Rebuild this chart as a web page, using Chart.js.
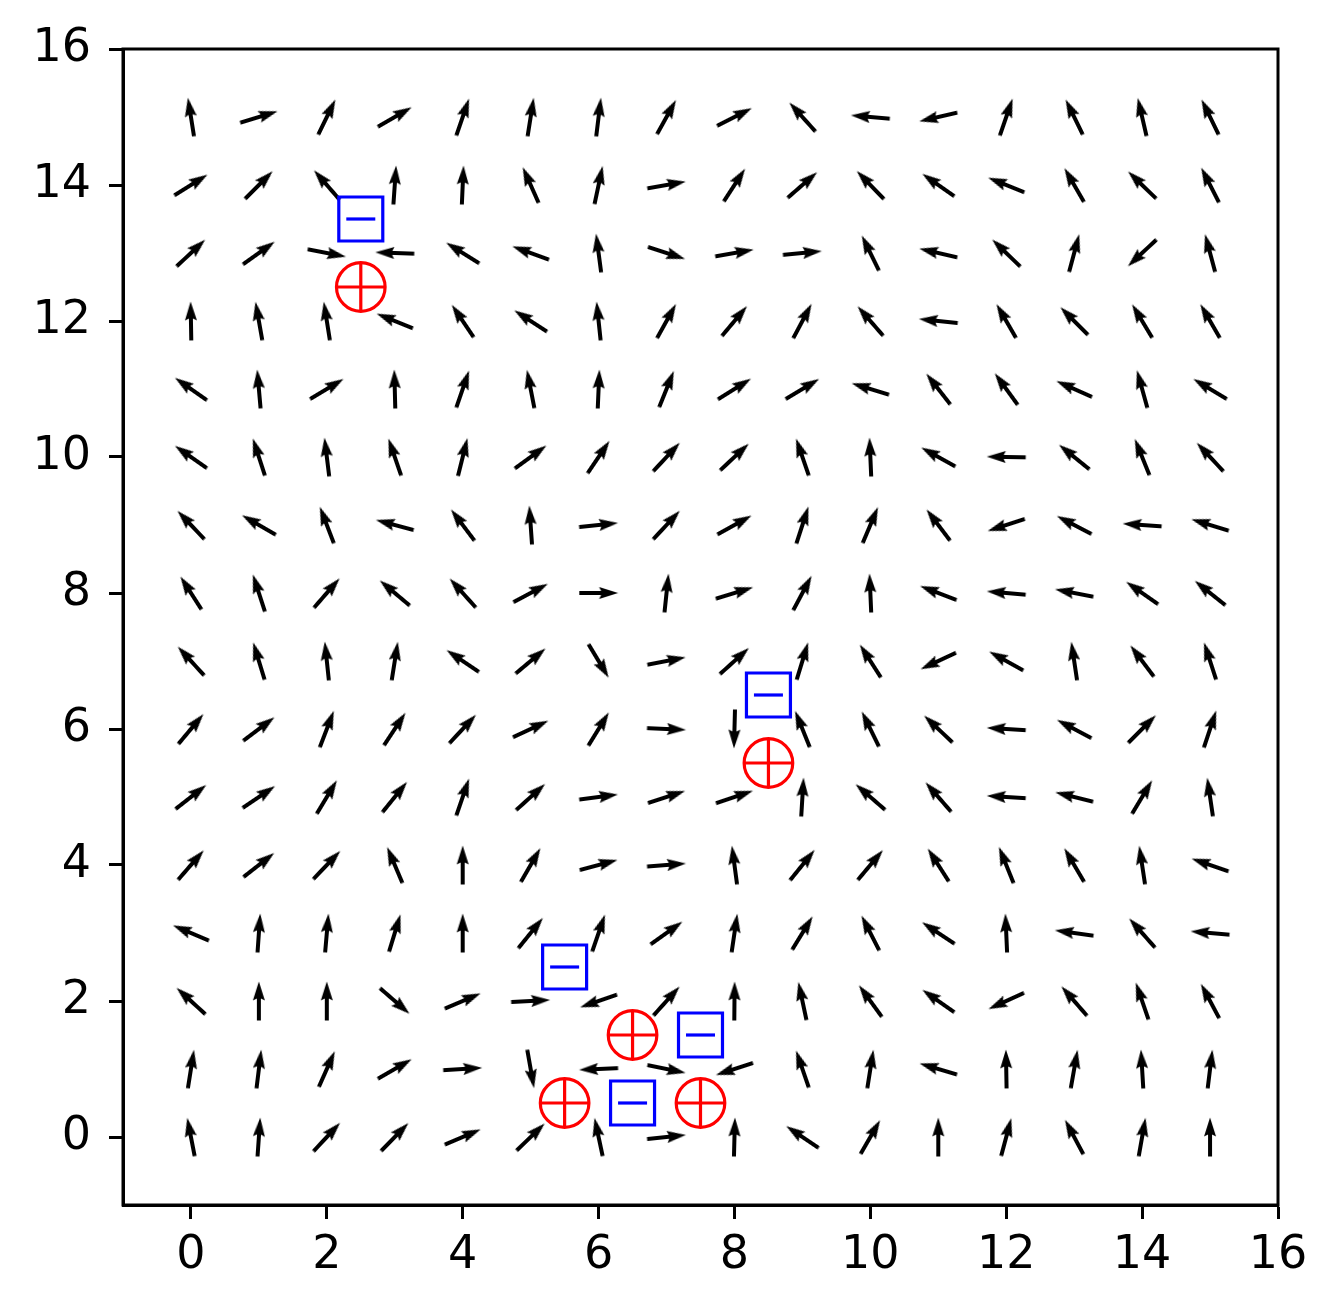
<!DOCTYPE html>
<html>
<head>
<meta charset="utf-8">
<script src="https://cdn.jsdelivr.net/npm/chart.js@4/dist/chart.umd.min.js"></script>
<style>
  html, body { margin: 0; padding: 0; background: #ffffff; }
  #wrap { width: 1339px; height: 1311px; }
</style>
</head>
<body>
<div id="wrap"><canvas id="c" width="1339" height="1311"></canvas></div>
<script>
// ---------------- data ----------------
const gridX = [0, 1, 2, 3, 4, 5, 6, 7, 8, 9, 10, 11, 12, 13, 14, 15];
const gridY = [15, 14, 13, 12, 11, 10, 9, 8, 7, 6, 5, 4, 3, 2, 1, 0];
// field direction (degrees, counter-clockwise from +x), one row per gridY value
const arrowAngleDeg = [
  [99, 17, 64, 30, 71, 81, 83, 61, 27, 132, 175, 193, 71, 116, 103, 116],        // y=15
  [32, 45, 131, 86, 87.5, 114, 78, 10, 57, 41, 134, 145, 158, 120, 136, 117],    // y=14
  [43, 35.5, -11, 178, 148, 160, 97.5, -18, 10, 5.5, 116, 167, 136, 75, 223, 105], // y=13
  [91, 100, 99, 158, 124, 147, 96, 61, 50, 62, 131, 174, 120, 135, 121, 120],    // y=12
  [145, 95, 31, 91.5, 71, 101, 87.5, 68, 32, 31, 163, 128, 126, 156, 105.5, 149], // y=11
  [145, 108, 97, 109, 76, 36, 56, 47, 43, 109, 92.5, 151, 179, 141, 112, 133],   // y=10
  [133.5, 150, 111, 165, 127, 94, 6, 47, 29, 72, 67, 127, 198, 152.5, 176, 163], // y=9
  [122.6, 108, 49, 140, 132, 28, 0, 84, 17, 62, 92.5, 159, 175, 169, 145, 141.5], // y=8
  [132.5, 107, 96, 81, 146, 40, -59, 11, 42, 73, 122.6, 205, 151, 98.5, 127, 108], // y=7
  [50, 37, 69, 56.6, 47, 25, 58.4, -2.5, 268.5, 112, 116, 136.5, 176.5, 152, 45, 71.6], // y=6
  [38, 34, 59, 51, 71, 42, 7.5, 18, 18.6, 86.5, 139, 131, 176.5, 166, 59, 98.4], // y=5
  [49, 38, 46.4, 113, 90, 60, 15, 4.5, 97.6, 51, 50, 122.6, 112, 120.5, 98.6, 161], // y=4
  [157, 86, 85, 73, 90, 51, 71, 35.5, 81.6, 58.5, 117, 146.5, 92.5, 172, 131.5, 175], // y=3
  [137.5, 90, 90, -41, 23, 3, 199, 48, 89.5, 102, 126, 145, 204.5, 131, 109, 118], // y=2
  [81, 83, 66, 30, 3.5, -80, 182.5, -11.6, 198, 109, 81, 163.5, 91, 80, 93.4, 83], // y=1
  [101, 86, 47, 45.7, 23, 44, 102, 6, 88.5, 146, 60, 90, 75, 118, 80, 90]        // y=0
];
const positiveX = [2.5, 8.5, 5.5, 6.5, 7.5];
const positiveY = [12.5, 5.5, 0.5, 1.5, 0.5];
const negativeX = [2.5, 8.5, 5.5, 7.5, 6.5];
const negativeY = [13.5, 6.5, 2.5, 1.5, 0.5];
const tickValues = [0, 2, 4, 6, 8, 10, 12, 14, 16];

// ---------------- build ----------------
const arrowPoints = [];
gridY.forEach((yv, r) => {
  gridX.forEach((xv, c) => {
    arrowPoints.push({ x: xv, y: yv, a: arrowAngleDeg[r][c] });
  });
});
const posPoints = positiveX.map((x, i) => ({ x, y: positiveY[i] }));
const negPoints = negativeX.map((x, i) => ({ x, y: negativeY[i] }));

// arrow glyph (matplotlib quiver style, pivot at middle)
function makeArrow() {
  const W = 40, H = 14;
  const cv = document.createElement('canvas');
  cv.width = W; cv.height = H;
  const g = cv.getContext('2d');
  const cy = H / 2, x0 = 0.5, tip = 39.5;
  const hw = 1.95, hl = 19, ha = 17, hh = 5.9;
  g.fillStyle = '#000000';
  g.beginPath();
  g.moveTo(x0, cy - hw);
  g.lineTo(tip - ha, cy - hw);
  g.lineTo(tip - hl, cy - hh);
  g.lineTo(tip, cy);
  g.lineTo(tip - hl, cy + hh);
  g.lineTo(tip - ha, cy + hw);
  g.lineTo(x0, cy + hw);
  g.closePath();
  g.fill();
  return cv;
}
const arrowGlyph = makeArrow();

const framePlugin = {
  id: 'frame',
  afterDatasetsDraw(chart) {
    const a = chart.chartArea, ctx = chart.ctx;
    ctx.save();
    ctx.strokeStyle = '#000000';
    ctx.lineWidth = 3;
    ctx.strokeRect(a.left, a.top, a.right - a.left, a.bottom - a.top);
    ctx.restore();
  }
};

const axisCommon = {
  type: 'linear',
  min: -1,
  max: 16,
  afterBuildTicks: s => { s.ticks = tickValues.map(v => ({ value: v })); },
  grid: {
    display: true,
    drawOnChartArea: false,
    drawTicks: true,
    tickLength: 14,
    tickWidth: 3,
    tickColor: '#000000'
  },
  border: { display: true, color: '#000000', width: 3 },
  ticks: {
    color: '#000000',
    font: { family: 'DejaVu Sans', size: 46 },
    maxRotation: 0,
    autoSkip: false
  }
};

new Chart(document.getElementById('c'), {
  type: 'scatter',
  data: {
    datasets: [
      {
        label: 'field',
        data: arrowPoints,
        order: 5,
        pointStyle: arrowGlyph,
        radius: 3,
        rotation: ctx => -(ctx.raw ? ctx.raw.a : 0),
        backgroundColor: '#000000',
        borderColor: '#000000'
      },
      {
        label: 'positive ring',
        data: posPoints,
        order: 2,
        pointStyle: 'circle',
        radius: 24.3,
        borderWidth: 3.2,
        borderColor: '#ff0000',
        backgroundColor: 'rgba(0,0,0,0)'
      },
      {
        label: 'positive plus',
        data: posPoints,
        order: 1,
        pointStyle: 'cross',
        radius: 24.3,
        borderWidth: 3.2,
        borderColor: '#ff0000',
        backgroundColor: 'rgba(0,0,0,0)'
      },
      {
        label: 'negative box',
        data: negPoints,
        order: 2,
        pointStyle: 'rect',
        radius: 31.1,
        borderWidth: 3.2,
        borderColor: '#0000ff',
        backgroundColor: 'rgba(0,0,0,0)'
      },
      {
        label: 'negative minus',
        data: negPoints,
        order: 1,
        pointStyle: 'line',
        radius: 14.5,
        borderWidth: 3.2,
        borderColor: '#0000ff',
        backgroundColor: 'rgba(0,0,0,0)'
      }
    ]
  },
  options: {
    responsive: false,
    devicePixelRatio: 1,
    animation: false,
    events: [],
    layout: { padding: { top: 49, right: 61, left: 0, bottom: 0 } },
    plugins: { legend: { display: false }, tooltip: { enabled: false } },
    scales: {
      x: Object.assign({}, axisCommon, {
        position: 'bottom',
        ticks: Object.assign({}, axisCommon.ticks, { padding: 9 }),
        afterFit: s => { s.height = 106; }
      }),
      y: Object.assign({}, axisCommon, {
        position: 'left',
        ticks: Object.assign({}, axisCommon.ticks, { padding: 18 }),
        afterFit: s => { s.width = 123; }
      })
    }
  },
  plugins: [framePlugin]
});
</script>
</body>
</html>
